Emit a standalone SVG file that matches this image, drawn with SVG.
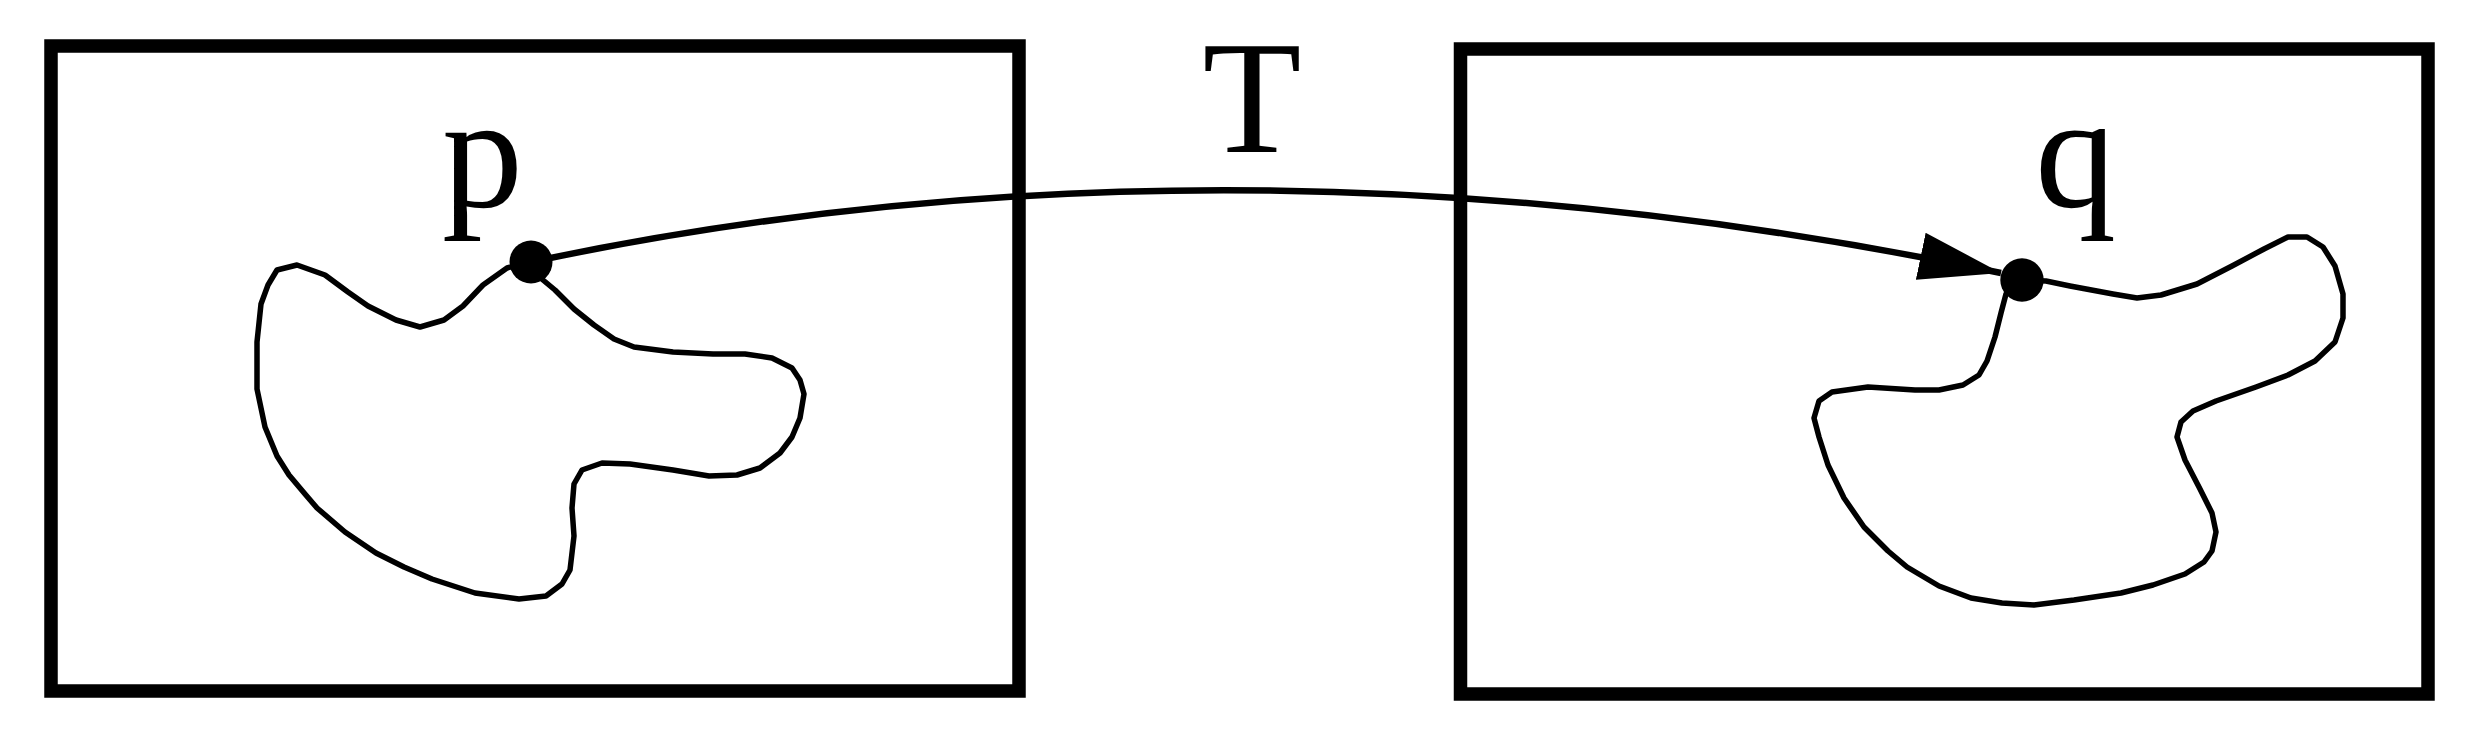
<svg xmlns="http://www.w3.org/2000/svg" width="2484" height="744" viewBox="0 0 2484 744">
<style>
.box{fill:none;stroke:#000;stroke-width:13.5}
.blob{fill:none;stroke:#000;stroke-width:5.5;stroke-linejoin:round}
.dot{fill:#000}
.lbl{font-family:"Liberation Serif","Times New Roman",serif;font-size:162px;fill:#000}
.conn{fill:none;stroke:#000;stroke-width:6.5}
</style>
<defs>
<marker id="ah" markerUnits="userSpaceOnUse" viewBox="0 0 82 48" refX="82" refY="24" markerWidth="82" markerHeight="48" orient="auto">
<path d="M0,0 L82,24 L0,48 z" fill="#000"/>
</marker>
</defs>
<g id="left">
<rect class="box" x="51" y="46" width="968" height="645"/>
<polyline class="blob" points="529,262 507,268 483,285 463,306 444,320 420,327 396,320 368,306 348,292 325,275 297,265 277,270 268,285 261,304 257,342 257,389 265,427 277,456 289,475 305,494 317,508 345,532 376,553 404,567 432,579 475,593 519,599 546,596 562,584 570,570 574,536 572,508 574,484 582,470 602,463 630,464 673,470 709,476 737,475 760,468 780,453 792,437 800,418 804,394 800,380 792,368 772,358 745,354 713,354 673,352 634,347 614,339 594,325 574,309 555,290 543,280 529,262"/>
<circle class="dot" cx="531" cy="262" r="21.5"/>
<text class="lbl" x="442" y="207">p</text>
</g>
<g id="right">
<rect class="box" x="1460.5" y="49" width="967.5" height="645"/>
<polyline class="blob" points="2022,280 2046,281 2070,286 2113,294 2137,298 2161,295 2197,284 2232,266 2264,249 2288,237 2307,237 2323,247 2335,266 2343,294 2343,318 2335,342 2315,361 2288,375 2256,387 2216,401 2193,411 2181,422 2177,437 2185,460 2200,489 2212,513 2216,532 2212,551 2204,562 2185,574 2153,585 2121,593 2074,600 2034,605 2002,603 1971,598 1939,586 1907,567 1888,551 1864,527 1844,498 1828,465 1819,437 1814,418 1819,401 1832,392 1868,387 1915,390 1939,390 1963,385 1979,375 1987,361 1995,337 2001,313 2006,294 2022,280"/>
<circle class="dot" cx="2022" cy="280" r="21.7"/>
<text class="lbl" x="2035" y="207">q</text>
</g>
<g id="connectors">
<path class="conn" d="M531,262 Q1234,113 2001,273" marker-end="url(#ah)"/>
<text class="lbl" x="1252" y="152" text-anchor="middle">T</text>
</g>
</svg>
